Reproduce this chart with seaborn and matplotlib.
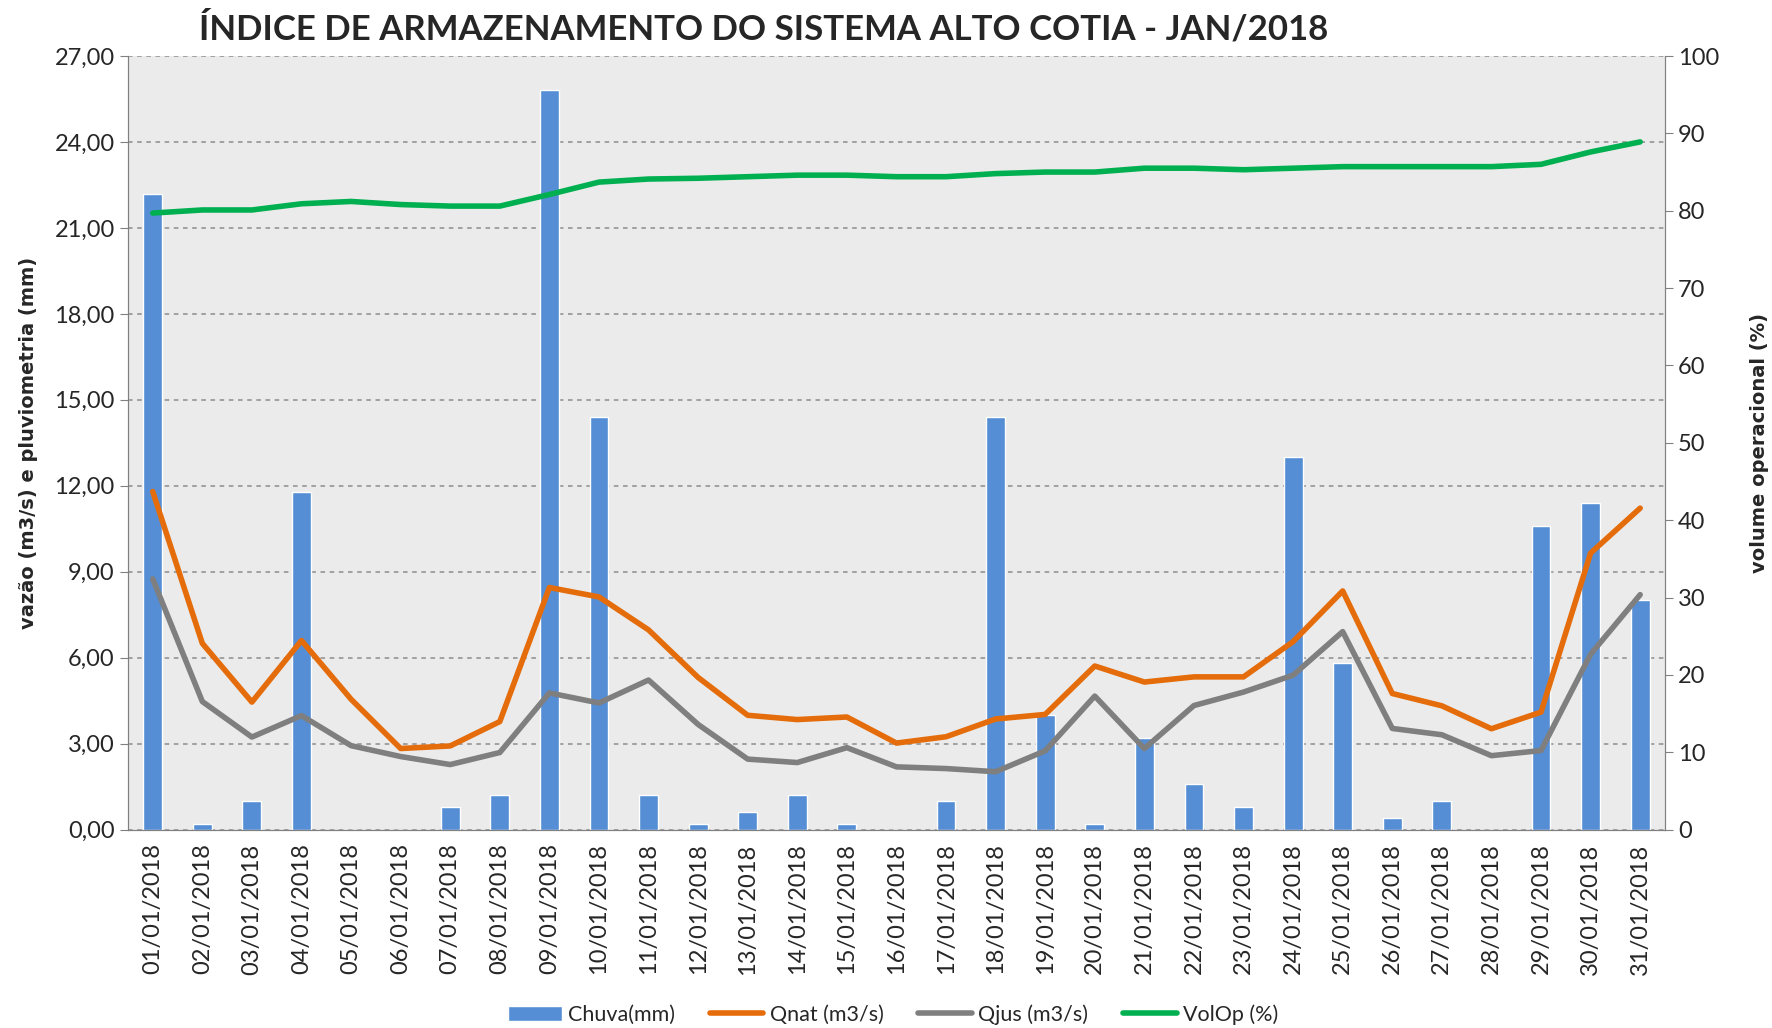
import numpy as np
import pandas as pd
import matplotlib
matplotlib.use("Agg")
import matplotlib.pyplot as plt
import seaborn as sns
from matplotlib.patches import Patch
from matplotlib.lines import Line2D
from matplotlib.ticker import FuncFormatter

dias = [f"{d:02d}/01/2018" for d in range(1, 32)]

chuva = [22.2, 0.2, 1.0, 11.8, 0.0, 0.0, 0.8, 1.2, 25.8, 14.4,
         1.2, 0.2, 0.6, 1.2, 0.2, 0.0, 1.0, 14.4, 4.0, 0.2,
         3.2, 1.6, 0.8, 13.0, 5.8, 0.4, 1.0, 0.0, 10.6, 11.4, 8.0]

qnat = [11.8, 6.5, 4.45, 6.6, 4.55, 2.83, 2.92, 3.77, 8.45, 8.12,
        6.97, 5.31, 3.99, 3.84, 3.93, 3.02, 3.24, 3.86, 4.02, 5.71,
        5.15, 5.33, 5.33, 6.56, 8.33, 4.75, 4.32, 3.52, 4.1, 9.65, 11.22]

qjus = [8.75, 4.47, 3.23, 3.98, 2.93, 2.55, 2.27, 2.69, 4.77, 4.42,
        5.22, 3.67, 2.46, 2.34, 2.86, 2.19, 2.13, 2.02, 2.75, 4.66,
        2.83, 4.33, 4.8, 5.39, 6.91, 3.53, 3.31, 2.58, 2.76, 6.12, 8.2]

volop = [79.7, 80.1, 80.1, 80.9, 81.2, 80.8, 80.6, 80.6, 82.1, 83.7,
         84.1, 84.2, 84.4, 84.6, 84.6, 84.4, 84.4, 84.8, 85.0, 85.0,
         85.5, 85.5, 85.3, 85.5, 85.7, 85.7, 85.7, 85.7, 86.0, 87.6, 88.9]

df = pd.DataFrame({"idx": np.arange(len(dias)), "dia": dias, "chuva": chuva,
                   "qnat": qnat, "qjus": qjus, "volop": volop})

sns.set_style("white")
plt.rcParams["font.family"] = ["Lato", "DejaVu Sans"]

c_bar = "#558ED5"
c_nat = "#E46C0A"
c_jus = "#7F7F7F"
c_vol = "#00B050"

fig = plt.figure(figsize=(17.72, 10.28), dpi=100)
ax = fig.add_axes([0.0722, 0.193, 0.8674, 0.7525])
ax2 = ax.twinx()

ax.set_facecolor("#EBEBEB")
sns.barplot(data=df, x="idx", y="chuva", color=c_bar, width=0.38,
            saturation=1, ax=ax, zorder=2)
sns.lineplot(data=df, x="idx", y="qnat", color=c_nat, lw=4, ax=ax, zorder=3)
sns.lineplot(data=df, x="idx", y="qjus", color=c_jus, lw=4, ax=ax, zorder=3)
sns.lineplot(data=df, x="idx", y="volop", color=c_vol, lw=4, ax=ax2, zorder=3)

ax.set_xlim(-0.5, len(dias) - 0.5)
ax.set_ylim(0, 27)
ax.set_yticks(np.arange(0, 27.1, 3))
ax.yaxis.set_major_formatter(FuncFormatter(lambda v, p: f"{v:.2f}".replace(".", ",")))
ax2.set_ylim(0, 100)
ax2.set_yticks(np.arange(0, 101, 10))

ax.set_xticks(df["idx"])
ax.set_xticklabels(dias, rotation=90, fontsize=17)
ax.set_xticks(np.arange(-0.5, len(dias), 1), minor=True)
ax.tick_params(axis="x", which="major", length=0, pad=10)
ax.tick_params(axis="x", which="minor", length=9, color="#808080", width=1, direction="out")
ax.tick_params(axis="y", labelsize=17, length=6, color="#808080", direction="out")
ax2.tick_params(axis="y", labelsize=17, length=6, color="#808080", direction="out")

ax.yaxis.grid(True, linestyle=(0, (3, 3)), color="#8C8C8C", lw=1.1)
ax.set_axisbelow(True)
ax2.grid(False)

for a in (ax, ax2):
    a.spines["top"].set_visible(False)
    a.spines["left"].set_color("#808080")
    a.spines["right"].set_color("#808080")
    a.spines["bottom"].set_color("#808080")

ax.set_xlabel("")
ax.set_ylabel("vazão (m3/s) e pluviometria (mm)", fontsize=14, fontweight="bold",
              family="DejaVu Sans", labelpad=12)
ax2.set_ylabel("volume operacional (%)", fontsize=14, fontweight="bold",
               family="DejaVu Sans", labelpad=22)

fig.text(0.431, 0.972, "ÍNDICE DE ARMAZENAMENTO DO SISTEMA ALTO COTIA - JAN/2018",
         ha="center", va="center", fontsize=25, fontweight="bold")

handles = [Patch(facecolor=c_bar, label="Chuva(mm)"),
           Line2D([], [], color=c_nat, lw=4, label="Qnat (m3/s)"),
           Line2D([], [], color=c_jus, lw=4, label="Qjus (m3/s)"),
           Line2D([], [], color=c_vol, lw=4, label="VolOp (%)")]
fig.legend(handles=handles, loc="center", bbox_to_anchor=(0.504, 0.013), ncol=4,
           frameon=False, fontsize=15.5, handlelength=2.5, handletextpad=0.3,
           columnspacing=1.6)

fig.savefig("out.png", dpi=100)
plt.close(fig)
